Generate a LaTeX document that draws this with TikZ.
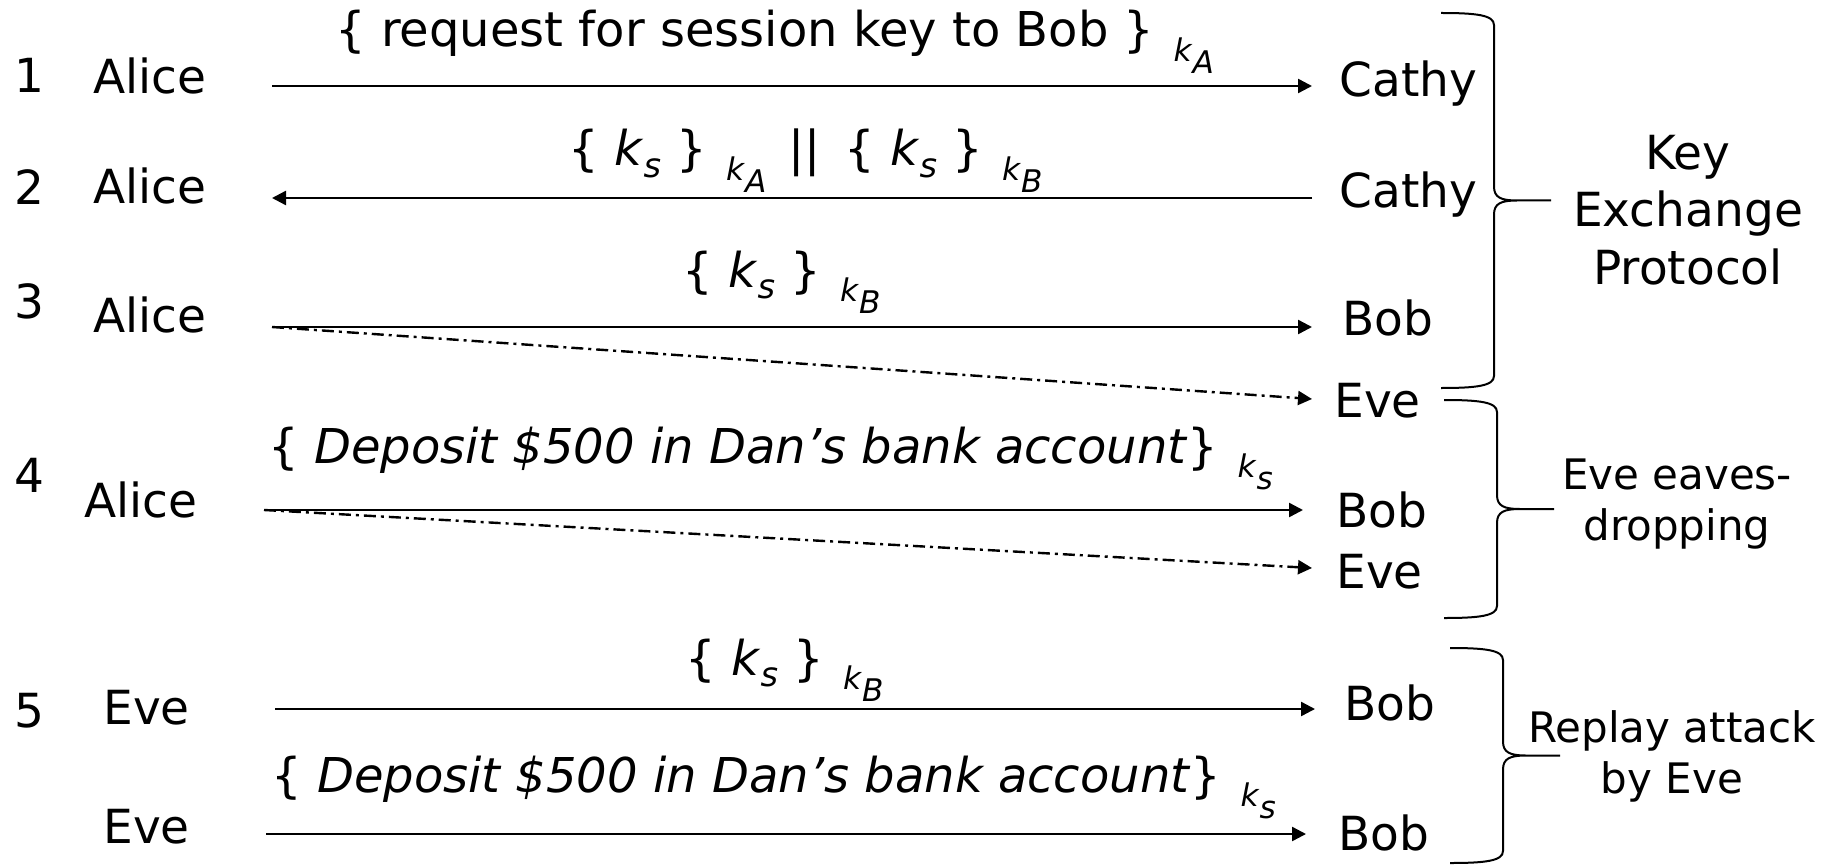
\documentclass[tikz,border=0pt]{standalone}
\usepackage{fontspec}
\setmainfont{DejaVu Sans}
\usetikzlibrary{arrows.meta}

\newcommand{\sub}[1]{\raisebox{-0.23em}{\scalebox{0.7}{#1}}}
\newcommand{\keyk}[1]{\textit{k}\sub{\textit{#1}}}
\newcommand{\keysub}[1]{\hspace{0.4em}\raisebox{-0.3em}{\scalebox{0.65}{\textit{k}\raisebox{-0.38em}{\textit{#1}}}}}
\newcommand{\sidebrace}[3]{%
  \draw[brace] (#1+110,{(#2+#3)/2}) -- (#1+76,{(#2+#3)/2})
    .. controls (#1+60,{(#2+#3)/2}) and (#1+53,{(#2+#3)/2-3}) .. (#1+53,{(#2+#3)/2-14})
    -- (#1+53,#2+12) .. controls (#1+53,#2+2) and (#1+35,#2) .. (#1,#2)
    (#1+76,{(#2+#3)/2})
    .. controls (#1+60,{(#2+#3)/2}) and (#1+53,{(#2+#3)/2+3}) .. (#1+53,{(#2+#3)/2+14})
    -- (#1+53,#3-12) .. controls (#1+53,#3-2) and (#1+35,#3) .. (#1,#3);}

\begin{document}
\begin{tikzpicture}[x=0.5pt,y=-0.5pt,
  font=\fontsize{23.5}{29}\selectfont,
  party/.style={anchor=base west,inner sep=0pt},
  msgtext/.style={anchor=base west,inner sep=0pt,font=\fontsize{24}{29}\selectfont},
  note/.style={align=center,anchor=base,inner sep=0pt},
  smallnote/.style={note,font=\fontsize{21}{25.5}\selectfont},
  send/.style={-{Triangle[length=7pt,width=7pt]},line width=1.2pt},
  tap/.style={send,dash pattern=on 6pt off 2.5pt on 1.5pt off 2.5pt},
  brace/.style={line width=1pt}]

	\useasboundingbox (0,0) rectangle (1829,866);

	\node[party] (n1) at (14,93) {1};
	\node[party] (alice1) at (93,94) {Alice};
	\node[party] (cathy1) at (1339,97) {Cathy};
	\node[msgtext] (m1) at (335,47) {\{ request for session key to Bob \}\keysub{A}};
	\coordinate (a1) at (272,86);
	\coordinate (b1) at (1312,86);
	\draw[send] (a1) -- (b1);

	\node[party] (n2) at (14,205) {2};
	\node[party] (alice2) at (93,204) {Alice};
	\node[party] (cathy2) at (1339,207) {Cathy};
	\node[msgtext] (m2) at (568,166) {\{ \keyk{s} \}\keysub{A}\hspace{0.45em}||\hspace{0.5em}\{ \keyk{s} \}\keysub{B}};
	\coordinate (a2) at (272,198);
	\coordinate (b2) at (1312,198);
	\draw[send] (b2) -- (a2);

	\node[party] (n3) at (14,318) {3};
	\node[party] (alice3) at (93,332) {Alice};
	\node[party] (bob3) at (1342,335) {Bob};
	\node[party] (eve3) at (1334,417) {Eve};
	\node[msgtext] (m3) at (682,287) {\{ \keyk{s} \}\keysub{B}};
	\coordinate (a3) at (272,327);
	\coordinate (b3) at (1312,327);
	\coordinate (c3) at (1312,399);
	\draw[send] (a3) -- (b3);
	\draw[tap] (a3) -- (c3);

	\node[party] (n4) at (14,492) {4};
	\node[party] (alice4) at (84,517) {Alice};
	\node[party] (bob4) at (1336,527) {Bob};
	\node[party] (eve4) at (1336,588) {Eve};
	\node[msgtext] (m4) at (268,463) {\{ \textit{Deposit \$500 in Dan’s bank account}\}\keysub{s}};
	\coordinate (a4) at (264,510);
	\coordinate (b4) at (1303,510);
	\coordinate (c4) at (1312,568);
	\draw[send] (a4) -- (b4);
	\draw[tap] (a4) -- (c4);

	\node[party] (n5) at (14,727) {5};
	\node[party] (eve5) at (103,724) {Eve};
	\node[party] (bob5) at (1344,720) {Bob};
	\node[msgtext] (m5) at (685,675) {\{ \keyk{s} \}\keysub{B}};
	\coordinate (a5) at (275,709);
	\coordinate (b5) at (1315,709);
	\draw[send] (a5) -- (b5);

	\node[party] (eve6) at (103,843) {Eve};
	\node[party] (bob6) at (1338,850) {Bob};
	\node[msgtext] (m6) at (271,792) {\{ \textit{Deposit \$500 in Dan’s bank account}\}\keysub{s}};
	\coordinate (a6) at (266,834);
	\coordinate (b6) at (1306,834);
	\draw[send] (a6) -- (b6);

	\sidebrace{1441}{13}{388}
	\sidebrace{1444}{400}{618}
	\sidebrace{1450}{648}{863}
	\node[note] (kep) at (1688,285) {Key\\Exchange\\Protocol};
	\node[smallnote] (eaves) at (1677,540) {Eve eaves-\\dropping};
	\node[smallnote] (replay) at (1672,793) {Replay attack\\by Eve};

\end{tikzpicture}
\end{document}
